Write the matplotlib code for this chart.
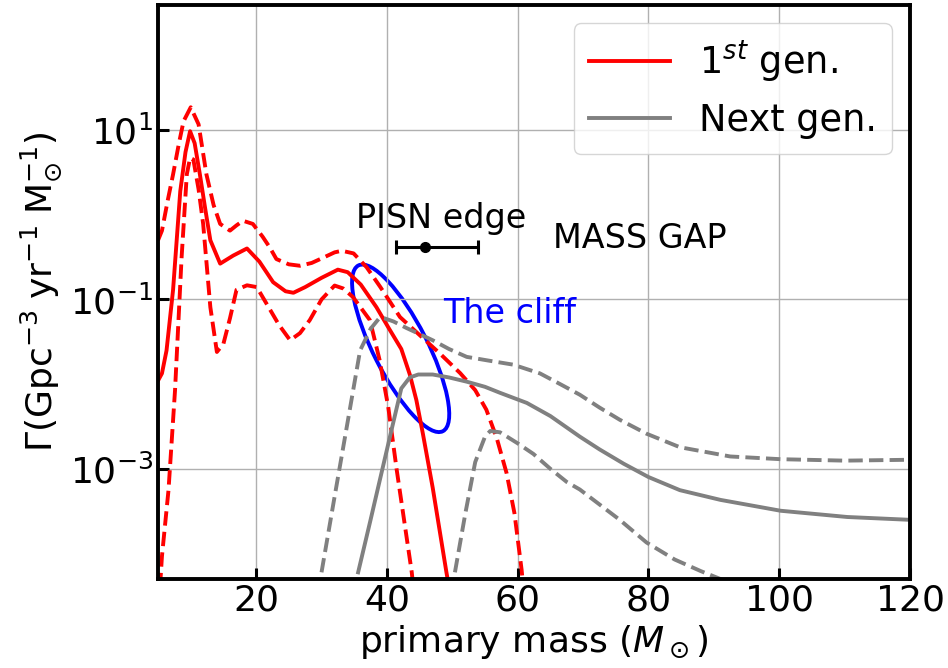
import numpy as np
import matplotlib
matplotlib.use("Agg")
import matplotlib.pyplot as plt
from matplotlib.patches import Ellipse
from matplotlib.transforms import ScaledTranslation

# ---- 1st generation (median + bounds) ----
first_x = [5.0, 5.6, 6.3, 7.3, 8.4, 9.2, 9.9, 10.6, 11.4, 12.2, 13.0, 14.5, 16.5,
           18.6, 20.5, 22.6, 24.5, 25.7, 27.5, 30.0, 32.5, 34.0, 36.0, 38.4, 40.2,
           42.2, 43.5, 44.5, 45.5, 47.0, 49.1, 49.5]
first_y = [0.011, 0.0134, 0.025, 0.13, 1.9, 5.5, 9.7, 7.0, 3.0, 1.2, 0.5, 0.265, 0.33,
           0.4, 0.28, 0.16, 0.125, 0.12, 0.14, 0.18, 0.225, 0.21, 0.15, 0.081, 0.047,
           0.026, 0.013, 0.0065, 0.0026, 0.0006, 6e-5, 4e-5]

first_hi_x = [5.0, 5.6, 6.5, 7.3, 8.2, 8.9, 10.0, 11.2, 12.4, 13.5, 14.5, 16.0, 17.0,
              18.0, 19.5, 21.0, 22.1, 23.1, 25.0, 26.7, 28.5, 30.2, 32.0, 33.1, 34.9,
              36.9, 39.0, 42.0, 45.0, 48.1, 51.2, 53.5, 55.2, 56.8, 58.3, 59.5, 60.6, 61.0]
first_hi_y = [0.5, 0.65, 1.5, 3.0, 7.0, 12.7, 18.6, 11.7, 3.0, 1.3, 0.78, 0.65, 0.75,
              0.85, 0.78, 0.55, 0.41, 0.3, 0.26, 0.25, 0.27, 0.31, 0.36, 0.376, 0.35,
              0.24, 0.14, 0.062, 0.038, 0.023, 0.0135, 0.0085, 0.005, 0.0023, 0.00089,
              0.0003, 6.4e-5, 3e-5]

first_lo_x = [5.3, 5.6, 6.6, 7.6, 8.6, 9.4, 9.9, 10.4, 11.2, 11.9, 13.0, 14.0, 15.0,
              16.0, 17.0, 18.6, 20.1, 21.6, 23.5, 25.2, 26.7, 28.2, 30.0, 32.0, 33.3,
              34.8, 36.0, 37.4, 38.9, 40.2, 41.5, 43.8, 44.2]
first_lo_y = [4e-5, 9.3e-5, 5.6e-4, 0.0085, 0.31, 3.0, 4.7, 4.5, 2.0, 0.78, 0.081,
              0.024, 0.03, 0.06, 0.13, 0.147, 0.14, 0.089, 0.05, 0.033, 0.04, 0.057,
              0.1, 0.146, 0.135, 0.107, 0.08, 0.057, 0.019, 0.0054, 0.00097, 6e-5, 3e-5]

# ---- next generation (median + bounds) ----
next_x = [35.6, 37.5, 39.5, 41.0, 42.2, 43.5, 44.8, 47.0, 49.5, 52.2, 55.0, 57.3,
          61.4, 65.0, 69.5, 72.5, 76.2, 80.0, 84.8, 91.0, 100.2, 110.4, 120.0]
next_y = [6e-5, 0.00025, 0.00115, 0.0036, 0.0089, 0.012, 0.013, 0.013, 0.012, 0.0107,
          0.0093, 0.0079, 0.006, 0.0042, 0.0024, 0.0017, 0.00115, 0.0008, 0.00056,
          0.00043, 0.00032, 0.00027, 0.00025]

next_hi_x = [30.0, 32.0, 34.0, 35.9, 37.5, 38.9, 39.6, 41.0, 43.0, 45.0, 47.0, 49.5,
             52.2, 55.5, 59.3, 63.4, 66.5, 69.5, 72.5, 75.6, 79.7, 84.8, 92.5, 100.2,
             110.0, 120.0]
next_hi_y = [6e-5, 0.00047, 0.0036, 0.025, 0.045, 0.061, 0.06, 0.055, 0.046, 0.039,
             0.033, 0.026, 0.021, 0.019, 0.017, 0.0134, 0.01, 0.0075, 0.0053, 0.0038,
             0.0026, 0.0018, 0.0014, 0.0013, 0.00125, 0.00128]

next_lo_x = [50.4, 52.0, 53.5, 55.0, 55.8, 57.3, 60.0, 62.4, 65.0, 67.5, 69.5, 72.5,
             75.6, 79.7, 84.0, 88.0, 91.0, 93.0]
next_lo_y = [6e-5, 0.0003, 0.0012, 0.0024, 0.0028, 0.0027, 0.002, 0.0015, 0.001,
             0.0007, 0.00057, 0.00038, 0.00025, 0.000135, 8.5e-5, 6.2e-5, 5e-5, 4.2e-5]

# PISN edge estimate
pisn_m = 45.8
pisn_err = [[4.4], [8.1]]
pisn_y = 0.42

lw = 2.8
fig = plt.figure(figsize=(9.48, 6.68), dpi=100)
ax = fig.add_axes([0.1667, 0.1332, 0.7933, 0.8593])

ax.plot(first_x, first_y, color='red', lw=lw, label=r'1$^{st}$ gen.')
ax.plot(first_hi_x, first_hi_y, color='red', lw=lw, ls='--')
ax.plot(first_lo_x, first_lo_y, color='red', lw=lw, ls='--')
ax.plot(next_x, next_y, color='gray', lw=lw, label='Next gen.')
ax.plot(next_hi_x, next_hi_y, color='gray', lw=lw, ls='--')
ax.plot(next_lo_x, next_lo_y, color='gray', lw=lw, ls='--')

ax.errorbar(pisn_m, pisn_y, xerr=pisn_err, fmt='o', color='k', ms=7,
            lw=2.2, capsize=5, capthick=2.2)

ax.set_yscale('log')
ax.set_xlim(5, 120)
ax.set_ylim(5e-5, 300)
ax.set_yticks([1e1, 1e-1, 1e-3])
ax.yaxis.set_minor_locator(matplotlib.ticker.NullLocator())
ax.set_xticks([20, 40, 60, 80, 100, 120])

# "the cliff" ellipse, sized in inches, centred on a data point
ell = Ellipse((0, 0), width=1.86, height=0.54, angle=-63, fill=False,
              edgecolor='blue', lw=2.8,
              transform=fig.dpi_scale_trans + ScaledTranslation(42.1, 0.0265, ax.transData))
ax.add_patch(ell)

ax.text(48.3, 0.9, 'PISN edge', fontsize=24, ha='center', va='center')
ax.text(78.6, 0.52, 'MASS GAP', fontsize=24, ha='center', va='center')
ax.text(48.6, 0.068, 'The cliff', fontsize=24, color='blue', ha='left', va='center')

ax.grid(True, color='#b0b0b0', lw=1)
ax.tick_params(direction='in', length=8, width=2.2, labelsize=26)
for s in ax.spines.values():
    s.set_linewidth(2.8)

ax.set_xlabel(r'primary mass ($M_\odot$)', fontsize=26)
ax.set_ylabel(r'$\Gamma(\mathrm{Gpc^{-3}\;yr^{-1}\;M_{\odot}^{-1}})$', fontsize=26)
ax.legend(loc='upper right', fontsize=26.5, handlelength=2.2)

fig.savefig('out.png', dpi=100)
